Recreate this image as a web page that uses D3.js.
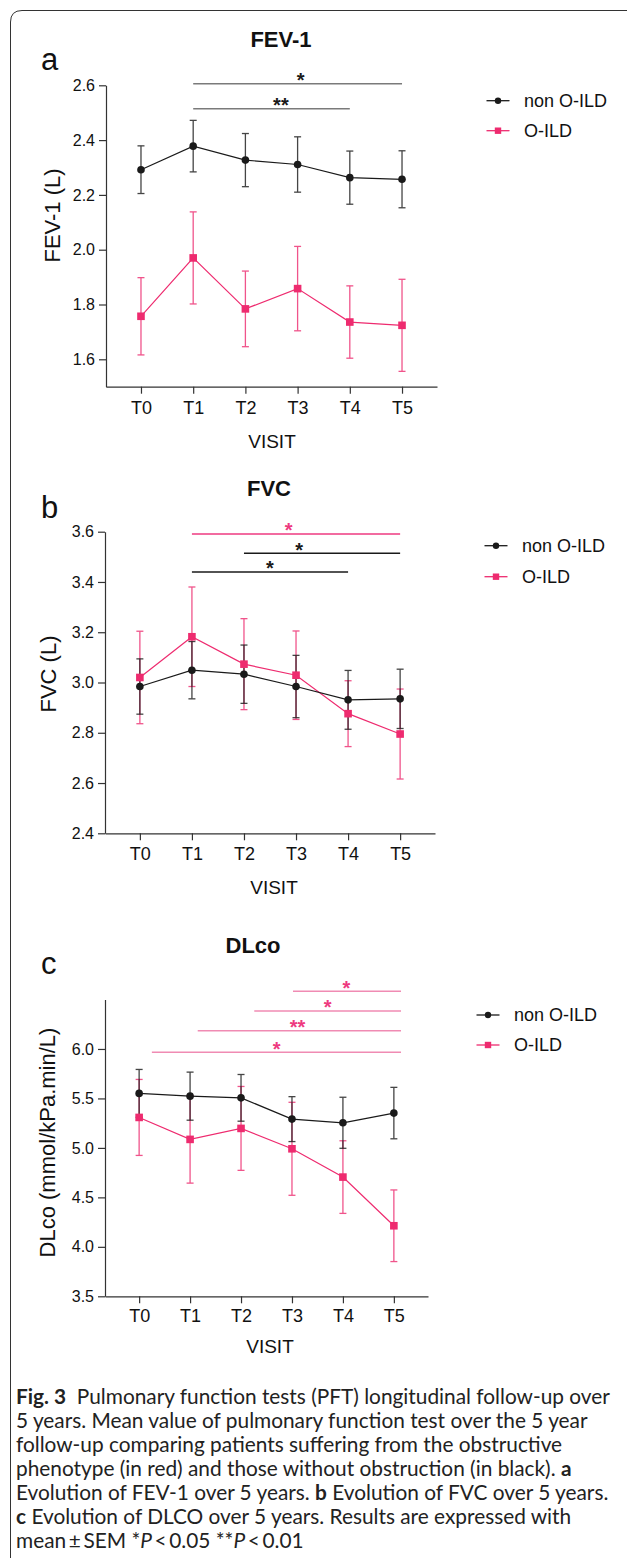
<!DOCTYPE html>
<html><head><meta charset="utf-8">
<script src="https://cdn.jsdelivr.net/npm/d3@7"></script>
<style>body{margin:0;background:#fff}svg{display:block}</style>
</head><body><svg id="c" width="627" height="1558"></svg>
<script>
// ---------------- DATA ----------------
const categories = ["T0", "T1", "T2", "T3", "T4", "T5"];
const seriesNames = ["non O-ILD", "O-ILD"];

const fev1NonMean = [2.292, 2.378, 2.327, 2.311, 2.263, 2.257];
const fev1NonSem  = [0.087, 0.094, 0.097, 0.101, 0.097, 0.104];
const fev1OMean   = [1.757, 1.970, 1.784, 1.858, 1.736, 1.724];
const fev1OSem    = [0.141, 0.168, 0.138, 0.154, 0.132, 0.168];
const fev1Ticks   = [1.6, 1.8, 2.0, 2.2, 2.4, 2.6];
const fev1Domain  = [1.5, 2.6];
// significance: [fromIndex, toIndex, yValue, labelIndex, label, colorKey]
const fev1Sig = [
  [1, 5, 2.606, 3.06, "*", "grey"],
  [1, 4, 2.514, 2.68, "**", "grey"]
];

const fvcNonMean = [2.984, 3.049, 3.033, 2.984, 2.931, 2.935];
const fvcNonSem  = [0.110, 0.114, 0.116, 0.124, 0.117, 0.118];
const fvcOMean   = [3.020, 3.182, 3.073, 3.029, 2.876, 2.795];
const fvcOSem    = [0.184, 0.198, 0.181, 0.176, 0.131, 0.179];
const fvcTicks   = [2.4, 2.6, 2.8, 3.0, 3.2, 3.4, 3.6];
const fvcDomain  = [2.4, 3.6];
const fvcSig = [
  [1, 5, 3.591, 2.86, "*", "pink"],
  [2, 5, 3.514, 3.06, "*", "black"],
  [1, 4, 3.440, 2.50, "*", "black"]
];

const dlcoNonMean = [5.551, 5.523, 5.506, 5.291, 5.254, 5.352];
const dlcoNonSem  = [0.242, 0.243, 0.236, 0.227, 0.258, 0.260];
const dlcoOMean   = [5.308, 5.086, 5.197, 4.991, 4.705, 4.213];
const dlcoOSem    = [0.384, 0.442, 0.424, 0.470, 0.367, 0.362];
const dlcoTicks   = [3.5, 4.0, 4.5, 5.0, 5.5, 6.0];
const dlcoDomain  = [3.5, 6.5];
const dlcoSig = [
  [3.02, 5.14, 6.584, 4.07, "*", "lightpink"],
  [2.26, 5.14, 6.384, 3.70, "*", "lightpink"],
  [1.15, 5.14, 6.183, 3.11, "**", "lightpink"],
  [0.25, 5.14, 5.968, 2.70, "*", "lightpink"]
];

const captionLines = [
  [["b", "Fig. 3"], ["n", "  Pulmonary function tests (PFT) longitudinal follow-up over"]],
  [["n", "5 years. Mean value of pulmonary function test over the 5 year"]],
  [["n", "follow-up comparing patients suffering from the obstructive"]],
  [["n", "phenotype (in red) and those without obstruction (in black). "], ["b", "a"]],
  [["n", "Evolution of FEV-1 over 5 years. "], ["b", "b"], ["n", " Evolution of FVC over 5 years."]],
  [["b", "c"], ["n", " Evolution of DLCO over 5 years. Results are expressed with"]],
  [["n", "mean\u2009\u00b1\u2009SEM *"], ["i", "P"], ["n", "\u2009<\u20090.05 **"], ["i", "P"], ["n", "\u2009<\u20090.01"]]
];

// ---------------- LAYOUT ----------------
const PINK = "#ee2b6f";
const PINK_ERR = "#f0548b";
const sigColors = { grey: "#7a7a7a", black: "#1a1a1a", pink: "#ee3a80", lightpink: "#f08bb3" };
const sigStarColors = { grey: "#1a1a1a", black: "#1a1a1a", pink: "#ee3a80", lightpink: "#ee3a80" };
const FONT = "'Liberation Sans', Arial, Helvetica, sans-serif";

const panels = [
  { letter: "a", title: "FEV-1", titleX: 281, titleY: 47, letterY: 70,
    x0: 106, x1: 437, yTop: 85.3, yBot: 386.7, domain: fev1Domain, ticks: fev1Ticks,
    nonMean: fev1NonMean, nonSem: fev1NonSem, oMean: fev1OMean, oSem: fev1OSem, sig: fev1Sig,
    ylabel: "FEV-1 (L)", ylabelX: 60, ylabelY: 215.5, xLabOff: 27.6, visitX: 272, visitY: 448,
    legX: 498, legY: [100.7, 130.7] },
  { letter: "b", title: "FVC", titleX: 269, titleY: 496, letterY: 518,
    x0: 105, x1: 435, yTop: 531.7, yBot: 833.3, domain: fvcDomain, ticks: fvcTicks,
    nonMean: fvcNonMean, nonSem: fvcNonSem, oMean: fvcOMean, oSem: fvcOSem, sig: fvcSig,
    ylabel: "FVC (L)", ylabelX: 56, ylabelY: 674, xLabOff: 26.7, visitX: 274, visitY: 894,
    legX: 496, legY: [545.7, 576.7] },
  { letter: "c", title: "DLco", titleX: 253, titleY: 953, letterY: 974,
    x0: 105, x1: 428, yTop: 999.5, yBot: 1296.3, domain: dlcoDomain, ticks: dlcoTicks,
    nonMean: dlcoNonMean, nonSem: dlcoNonSem, oMean: dlcoOMean, oSem: dlcoOSem, sig: dlcoSig,
    ylabel: "DLco (mmol/kPa.min/L)", ylabelX: 55, ylabelY: 1142.5, xLabOff: 26, visitX: 270, visitY: 1353,
    legX: 488, legY: [1015, 1045] }
];

const svg = d3.select("#c");
svg.append("rect").attr("width", 627).attr("height", 1558).attr("fill", "#fff");

// frame
svg.append("path")
  .attr("d", "M10.5,1560 L10.5,22 Q10.5,10.5 22,10.5 L630,10.5")
  .attr("fill", "none").attr("stroke", "#333").attr("stroke-width", 1);

panels.forEach(p => {
  const g = svg.append("g");
  const x = d3.scalePoint().domain(categories).range([p.x0, p.x1]).padding(0.67);
  const step = x.step();
  const xi = i => x(categories[0]) + i * step;
  const y = d3.scaleLinear().domain(p.domain).range([p.yBot, p.yTop]);

  // title & letter
  g.append("text").attr("x", p.titleX).attr("y", p.titleY).attr("text-anchor", "middle")
    .attr("font-family", FONT).attr("font-weight", "bold").attr("font-size", 22).attr("fill", "#111").text(p.title);
  g.append("text").attr("x", 41).attr("y", p.letterY)
    .attr("font-family", FONT).attr("font-size", 31).attr("fill", "#111").text(p.letter);

  // axes
  const yAxis = d3.axisLeft(y).tickValues(p.ticks).tickFormat(d3.format(".1f")).tickSize(7).tickSizeOuter(0).tickPadding(4);
  const ya = g.append("g").attr("transform", `translate(${p.x0},0)`).call(yAxis);
  ya.selectAll("text").attr("font-family", FONT).attr("font-size", 16).attr("fill", "#111");
  ya.selectAll("path,line").attr("stroke", "#333").attr("stroke-width", 1.2);

  const xAxis = d3.axisBottom(x).tickSize(7).tickSizeOuter(0);
  const xa = g.append("g").attr("transform", `translate(0,${p.yBot})`).call(xAxis);
  xa.selectAll("text").attr("font-family", FONT).attr("font-size", 18).attr("fill", "#111")
    .attr("y", p.xLabOff).attr("dy", 0);
  xa.selectAll("path,line").attr("stroke", "#333").attr("stroke-width", 1.2);

  // axis labels
  g.append("text").attr("x", p.visitX).attr("y", p.visitY).attr("text-anchor", "middle")
    .attr("font-family", FONT).attr("font-size", 19).attr("fill", "#111").text("VISIT");
  g.append("text").attr("transform", `translate(${p.ylabelX},${p.ylabelY}) rotate(-90)`)
    .attr("text-anchor", "middle").attr("font-family", FONT).attr("font-size", 22).attr("fill", "#111").text(p.ylabel);

  // significance bars
  p.sig.forEach(s => {
    const [f, t, v, at, lab, col] = s;
    g.append("line").attr("x1", xi(f)).attr("x2", xi(t)).attr("y1", y(v)).attr("y2", y(v))
      .attr("stroke", sigColors[col]).attr("stroke-width", 1.5);
    g.append("text").attr("x", xi(at)).attr("y", y(v) + 3.5).attr("text-anchor", "middle")
      .attr("font-family", FONT).attr("font-weight", "bold").attr("font-size", 20)
      .attr("fill", sigStarColors[col]).text(lab);
  });

  const series = [
    { mean: p.oMean, sem: p.oSem, line: PINK, err: PINK_ERR, errOp: 1, shape: "square" },
    { mean: p.nonMean, sem: p.nonSem, line: "#1a1a1a", err: "#111", errOp: 0.78, shape: "circle" }
  ];
  // error bars
  series.forEach(s => {
    const eg = g.append("g").attr("stroke", s.err).attr("stroke-width", 1.3).attr("opacity", s.errOp);
    categories.forEach((c, i) => {
      const cx = x(c), hi = y(s.mean[i] + s.sem[i]), lo = y(s.mean[i] - s.sem[i]);
      eg.append("line").attr("x1", cx).attr("x2", cx).attr("y1", hi).attr("y2", lo);
      eg.append("line").attr("x1", cx - 3.5).attr("x2", cx + 3.5).attr("y1", hi).attr("y2", hi);
      eg.append("line").attr("x1", cx - 3.5).attr("x2", cx + 3.5).attr("y1", lo).attr("y2", lo);
    });
  });
  // lines
  const lineGen = d3.line().x((d, i) => x(categories[i])).y(d => y(d));
  series.forEach(s => {
    g.append("path").attr("d", lineGen(s.mean)).attr("fill", "none")
      .attr("stroke", s.line).attr("stroke-width", 1.2);
  });
  // markers
  series.forEach(s => {
    categories.forEach((c, i) => {
      if (s.shape === "circle") {
        g.append("circle").attr("cx", x(c)).attr("cy", y(s.mean[i])).attr("r", 3.8).attr("fill", s.line);
      } else {
        g.append("rect").attr("x", x(c) - 3.8).attr("y", y(s.mean[i]) - 3.8).attr("width", 7.6).attr("height", 7.6).attr("fill", s.line);
      }
    });
  });

  // legend
  seriesNames.forEach((name, k) => {
    const ly = p.legY[k];
    const col = k === 0 ? "#1a1a1a" : PINK;
    g.append("line").attr("x1", p.legX - 11.5).attr("x2", p.legX + 11.5).attr("y1", ly).attr("y2", ly)
      .attr("stroke", col).attr("stroke-width", 1.3);
    if (k === 0) g.append("circle").attr("cx", p.legX).attr("cy", ly).attr("r", 3.2).attr("fill", col);
    else g.append("rect").attr("x", p.legX - 3.2).attr("y", ly - 3.2).attr("width", 6.4).attr("height", 6.4).attr("fill", col);
    g.append("text").attr("x", p.legX + 26).attr("y", ly).attr("dy", "0.36em")
      .attr("font-family", FONT).attr("font-size", 18).attr("fill", "#111").text(name);
  });
});

// caption
const CAPFONT = "Lato, 'Noto Sans', sans-serif";
const cap = svg.append("g");
const capTexts = captionLines.map((parts, li) => {
  const t = cap.append("text").attr("x", 16).attr("y", 1404 + li * 24)
    .attr("font-family", CAPFONT).attr("font-size", 20).attr("fill", "#222");
  parts.forEach(([st, txt]) => {
    const ts = t.append("tspan").text(txt).attr("xml:space", "preserve");
    if (st === "b") ts.attr("font-weight", "bold");
    if (st === "i") ts.attr("font-style", "italic");
  });
  t.style("white-space", "pre");
  return t;
});
const w0 = capTexts[0].node().getComputedTextLength();
const fs = 20 * 594 / w0;
capTexts.forEach(t => t.attr("font-size", fs));
</script></body></html>
